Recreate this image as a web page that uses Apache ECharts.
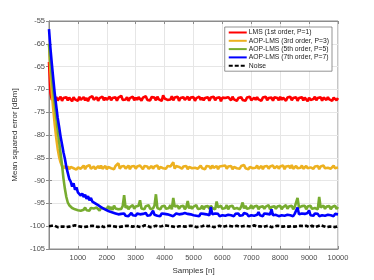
<!DOCTYPE html>
<html><head><meta charset="utf-8">
<script src="https://cdn.jsdelivr.net/npm/echarts@6/dist/echarts.min.js"></script>
<style>html,body{margin:0;padding:0;background:#fff}#c{width:374px;height:280px}</style>
</head><body><div id="c"></div>
<script>
const samples = [0,50,100,150,200,250,300,350,400,450,500,550,600,650,700,750,800,850,900,950,
1000,1050,1100,1150,1200,1250,1300,1350,1400,1450,1500,1550,1600,1650,1700,1750,1800,1850,1900,1950,
2000,2050,2100,2150,2200,2250,2300,2350,2400,2450,2500,2550,2600,2650,2700,2750,2800,2850,2900,2950,
3000,3050,3100,3150,3200,3250,3300,3350,3400,3450,3500,3550,3600,3650,3700,3750,3800,3850,3900,3950,
4000,4050,4100,4150,4200,4250,4300,4350,4400,4450,4500,4550,4600,4650,4700,4750,4800,4850,4900,4950,
5000,5050,5100,5150,5200,5250,5300,5350,5400,5450,5500,5550,5600,5650,5700,5750,5800,5850,5900,5950,
6000,6050,6100,6150,6200,6250,6300,6350,6400,6450,6500,6550,6600,6650,6700,6750,6800,6850,6900,6950,
7000,7050,7100,7150,7200,7250,7300,7350,7400,7450,7500,7550,7600,7650,7700,7750,7800,7850,7900,7950,
8000,8050,8100,8150,8200,8250,8300,8350,8400,8450,8500,8550,8600,8650,8700,8750,8800,8850,8900,8950,
9000,9050,9100,9150,9200,9250,9300,9350,9400,9450,9500,9550,9600,9650,9700,9750,9800,9850,9900,9950,10000];

const lms1 = [-64.0,-70.8,-72.3,
-71.8,-72.3,-71.7,-72.4,-72.0,-71.6,-72.5,-71.9,-72.2,-71.7,
-72.4,-71.8,-72.1,-72.6,-71.7,-72.2,-71.9,-72.5,-71.6,-72.3,
-72.0,-71.7,-72.4,-71.9,-72.6,-71.8,-72.1,-71.5,-72.3,-72.0,
-71.7,-72.5,-71.9,-72.2,-71.6,-72.4,-71.8,-72.3,-72.0,-71.6,
-72.4,-71.9,-72.2,-71.7,-72.5,-71.8,-72.0,-71.4,-72.3,-71.9,
-72.2,-71.7,-72.5,-71.9,-72.1,-71.6,-72.4,-71.8,-72.3,-71.7,
-72.0,-72.5,-71.8,-72.2,-71.5,-72.3,-71.9,-72.4,-71.7,-72.1,
-71.8,-72.4,-71.6,-72.2,-71.9,-72.5,-71.3,-72.0,-71.7,-72.3,
-71.9,-72.2,-71.5,-72.4,-71.8,-72.1,-71.6,-72.5,-71.9,-72.2,
-71.7,-72.3,-72.0,-71.6,-72.4,-71.8,-72.2,-71.7,-72.5,-71.9,
-72.1,-71.6,-72.3,-71.8,-72.4,-71.9,-72.0,-71.7,-72.5,-71.8,
-72.2,-71.6,-72.4,-71.9,-72.1,-71.7,-72.6,-71.8,-72.2,-71.9,
-72.3,-71.7,-72.0,-72.4,-71.6,-72.2,-71.8,-72.5,-71.9,-72.1,
-71.7,-72.3,-71.9,-72.5,-71.8,-72.1,-71.6,-72.4,-72.0,-71.8,
-72.3,-71.7,-72.2,-71.9,-72.5,-71.8,-72.0,-71.6,-72.4,-71.9,
-72.2,-71.8,-72.5,-71.7,-72.1,-71.9,-72.4,-71.6,-72.3,-71.8,
-72.0,-72.5,-71.8,-72.2,-71.6,-72.4,-71.9,-72.1,-71.7,-72.5,
-71.9,-72.2,-71.7,-72.4,-71.8,-72.1,-72.6,-71.8,-72.3,-71.9,
-72.1,-71.6,-72.4,-71.9,-72.2,-71.7,-72.5,-71.8,-72.0,-72.3,
-71.7,-72.2,-71.9,-72.5,-71.8,-72.1,-72.4,-71.9];

const aop3 = [-60.0,-66.0,-71.0,-74.5,-77.8,-80.6,-83.0,-84.8,-86.0,-86.8,-87.3,
-86.8,-87.4,-86.9,-87.5,-87.0,-86.7,-87.3,-86.9,-87.6,-87.1,
-86.8,-87.4,-87.0,-86.7,-87.5,-86.9,-87.2,-86.6,-87.4,-87.0,
-86.9,-87.5,-87.1,-86.8,-87.3,-86.7,-87.4,-87.0,-86.8,-87.5,
-87.0,-86.7,-87.3,-86.9,-87.5,-86.8,-87.2,-86.2,-87.4,-86.9,
-87.1,-86.8,-87.4,-87.0,-86.7,-87.5,-86.9,-87.2,-86.8,-87.4,
-86.9,-87.3,-86.7,-87.1,-87.5,-86.8,-87.2,-86.9,-87.4,-87.0,
-86.8,-87.4,-86.9,-87.2,-86.7,-87.5,-87.0,-86.8,-87.3,-86.9,
-87.4,-86.8,-87.1,-86.9,-87.3,-86.0,-87.4,-86.8,-87.2,-87.0,
-86.7,-87.4,-86.9,-87.3,-86.8,-87.5,-87.0,-86.7,-87.3,-86.9,
-87.2,-86.8,-87.4,-87.0,-86.7,-87.3,-86.9,-87.5,-86.8,-87.1,
-86.9,-87.4,-86.7,-87.2,-87.0,-86.8,-87.5,-86.9,-87.3,-86.8,
-87.1,-86.7,-87.4,-86.9,-87.2,-86.8,-87.5,-87.0,-86.7,-87.3,
-86.9,-87.4,-86.8,-87.1,-86.6,-87.3,-86.9,-87.5,-87.0,-86.8,
-87.3,-86.9,-87.2,-86.7,-87.4,-87.0,-86.8,-87.5,-86.9,-87.2,
-86.8,-87.4,-86.9,-87.1,-86.7,-87.3,-87.0,-86.8,-87.4,-86.9,
-87.2,-86.7,-87.5,-86.9,-87.1,-86.8,-87.3,-86.6,-87.4,-87.0,
-86.8,-87.3,-86.9,-87.2,-86.7,-87.4,-87.0,-86.8,-87.3,-86.9,
-87.1,-86.7,-87.4,-86.9,-87.2,-86.8,-87.5,-86.9,-87.1,-86.7,
-87.3,-86.9,-87.2,-86.8,-87.4,-87.0,-86.7,-87.3,-86.9,-87.1];

const aop5 = [-60.0,-64.0,-67.5,-70.5,-73.2,-76.0,-79.0,-81.5,-84.0,-86.5,-89.5,-91.8,-93.6,-94.8,-95.4,-95.8,-96.0,-96.2,-96.3,
-96.0,-96.5,-96.1,-96.6,-96.2,-96.4,-95.9,-96.5,-96.2,-96.6,-96.0,-96.4,-96.1,-96.5,-95.9,-96.3,-96.6,-96.0,-96.4,-96.1,-95.8,-96.3,
-95.6,-96.3,-95.8,-96.4,-95.5,-96.1,-95.7,-96.3,-95.9,-96.2,
-95.6,-93.2,-96.0,-95.5,-96.3,-95.8,-96.1,-95.4,-96.2,-95.7,
-96.0,-95.5,-94.3,-96.1,-95.7,-96.3,-95.6,-96.0,-95.4,-96.2,
-95.8,-96.1,-95.5,-93.0,-96.0,-95.6,-96.3,-95.7,-96.1,-95.5,
-96.2,-95.8,-96.0,-95.4,-96.3,-93.8,-95.7,-96.1,-95.5,-96.2,
-95.7,-96.0,-95.5,-96.3,-95.8,-94.5,-96.1,-95.6,-96.2,-95.7,
-96.0,-95.4,-96.2,-95.8,-96.1,-95.5,-96.3,-95.7,-96.0,-95.6,
-96.2,-95.5,-96.0,-95.7,-96.3,-94.6,-95.9,-96.1,-95.5,-96.2,
-95.8,-96.0,-95.4,-96.3,-95.7,-96.1,-95.5,-96.2,-95.8,-96.0,
-95.6,-96.3,-95.7,-94.8,-96.1,-95.5,-96.2,-95.8,-96.0,-95.4,
-96.2,-95.7,-96.1,-95.5,-96.3,-95.8,-96.0,-95.6,-96.2,-95.7,
-96.0,-95.4,-96.3,-95.8,-96.1,-95.6,-96.2,-95.7,-96.0,-95.5,
-96.3,-95.8,-96.1,-95.4,-96.2,-95.7,-96.0,-95.5,-96.3,-95.8,
-96.1,-93.8,-95.9,-96.2,-95.6,-96.0,-95.5,-96.3,-95.7,-96.1,
-95.5,-96.2,-95.8,-96.0,-95.6,-96.3,-93.6,-95.9,-96.1,-95.5,
-96.2,-95.7,-96.0,-95.6,-96.3,-95.8,-96.1,-95.5,-96.2,-95.8];

const aop7 = [-56.8,-61.0,-64.5,-67.8,-71.0,-73.6,-76.2,-78.2,-80.3,-82.0,-83.8,-85.2,-87.0,-88.3,-89.6,-90.2,-91.3,-90.6,-92.0,-91.5,-92.6,
-92.2,-93.3,-92.8,-93.6,-93.1,-94.0,-93.4,-94.3,-93.8,-94.6,
-94.2,-95.0,-94.6,-95.4,-95.0,-95.8,-95.4,-96.2,-95.9,-96.5,
-96.1,-96.8,-96.4,-97.0,-96.7,-97.2,-96.9,-97.4,-97.0,-97.3,
-97.6,-97.2,-97.7,-97.3,-97.8,-97.4,-97.1,-97.6,-97.3,-97.7,
-97.2,-97.6,-97.4,-97.8,-97.3,-97.5,-97.1,-97.7,-97.4,-97.6,
-97.2,-96.6,-97.5,-97.3,-97.7,-97.4,-97.8,-97.2,-97.6,-97.3,
-97.7,-97.4,-97.1,-97.6,-97.3,-97.8,-97.5,-97.2,-97.6,-97.4,
-97.8,-97.3,-97.6,-97.1,-97.5,-97.3,-97.7,-97.4,-97.2,-97.6,
-97.3,-97.7,-97.4,-97.8,-97.2,-97.5,-97.3,-97.7,-97.4,-97.1,
-97.6,-95.8,-97.4,-97.7,-97.2,-97.5,-97.3,-97.8,-97.4,-97.6,
-97.2,-97.7,-97.3,-97.5,-97.1,-97.6,-97.4,-97.8,-97.3,-97.5,
-97.2,-97.7,-97.4,-97.6,-97.1,-97.5,-97.3,-97.8,-97.4,-97.6,
-97.2,-97.7,-97.3,-97.5,-96.9,-97.6,-97.4,-97.8,-97.2,-97.5,
-97.3,-97.7,-97.4,-96.3,-97.6,-97.2,-97.5,-97.3,-97.8,-97.4,
-97.6,-97.2,-97.7,-97.3,-97.5,-97.1,-97.6,-97.4,-97.8,-97.3,
-97.5,-95.9,-97.4,-97.7,-97.2,-97.6,-97.3,-97.5,-97.1,-96.5,
-97.6,-97.4,-97.7,-97.2,-97.5,-97.3,-97.8,-97.4,-97.6,-97.2,
-97.7,-97.3,-97.5,-97.1,-97.6,-97.4,-97.8,-97.3,-97.5,-97.4];

const noise = [-100.0,
-100.1,-99.9,-100.2,-99.9,-100.0,-100.2,-99.9,-100.1,-99.8,-100.1,
-100.0,-100.2,-99.9,-100.1,-99.9,-100.0,-100.2,-99.8,-100.1,-100.0,
-99.9,-100.1,-100.0,-100.2,-99.9,-100.1,-99.8,-100.0,-100.2,-99.9,
-100.1,-100.0,-99.9,-100.2,-100.0,-99.9,-100.1,-100.2,-99.9,-100.0,
-100.2,-99.9,-100.1,-100.0,-99.8,-100.1,-100.0,-100.2,-99.9,-100.1,
-99.9,-100.0,-100.2,-99.9,-100.1,-100.0,-99.9,-100.1,-100.2,-99.9,
-100.0,-100.1,-99.9,-100.2,-100.0,-99.8,-100.1,-99.9,-100.0,-100.2,
-99.9,-100.1,-100.0,-99.9,-100.2,-100.1,-99.9,-100.0,-100.1,-99.8,
-100.1,-99.9,-100.2,-100.0,-99.9,-100.1,-100.0,-100.2,-99.9,-100.0,
-100.2,-100.0,-99.9,-100.1,-99.8,-100.0,-100.2,-99.9,-100.1,-100.0,
-99.9,-100.2,-100.0,-100.1,-99.9,-100.0,-100.1,-99.8,-100.2,-100.0,
-100.1,-99.9,-100.0,-100.2,-99.9,-100.1,-100.0,-99.9,-100.1,-100.2,
-99.9,-100.0,-100.1,-99.9,-100.2,-100.0,-99.8,-100.1,-100.0,-99.9,
-100.2,-100.1,-99.9,-100.0,-100.1,-99.9,-100.2,-100.0,-99.9,-100.1,
-100.0,-99.8,-100.2,-100.1,-99.9,-100.0,-100.1,-100.2,-99.9,-100.0,
-100.1,-99.9,-100.0,-100.2,-99.9,-100.1,-100.0,-99.9,-100.2,-100.0,
-99.9,-100.1,-100.2,-100.0,-99.8,-100.1,-99.9,-100.0,-100.2,-100.1,
-99.9,-100.0,-100.1,-99.9,-100.2,-100.0,-100.1,-99.9,-100.0,-100.2,
-100.0,-99.9,-100.1,-100.2,-99.9,-100.0,-100.1,-99.8,-100.1,-100.0,
-99.9,-100.2,-100.0,-100.1,-99.9,-100.1,-100.0,-100.2,-99.9,-100.0];

const seriesNames = ['LMS (1st order, P=1)','AOP-LMS (3rd order, P=3)','AOP-LMS (5th order, P=5)','AOP-LMS (7th order, P=7)','Noise'];
const seriesColors = ['#ff0000','#edb120','#77ac30','#0000ff','#000000'];
const seriesValues = [lms1, aop3, aop5, aop7, noise];
const xTicks = {min:0, max:10000, interval:1000};
const yTicks = {min:-105, max:-55, interval:5};

const chart = echarts.init(document.getElementById('c'), null, {renderer:'canvas'});
const axisColor = '#8c8c8c';
const labelColor = '#4d4d4d';
const ff = 'Liberation Sans, Arial, sans-serif';
const series = seriesValues.map((vals, i) => ({
  name: seriesNames[i],
  type: 'line',
  data: samples.map((s, k) => [s, vals[k]]),
  showSymbol: false,
  symbol: 'none',
  lineStyle: i === 4 ? {color: seriesColors[i], width: 2.6, type: [4, 2]} : {color: seriesColors[i], width: 2.6},
  itemStyle: {color: seriesColors[i]},
  animation: false,
  z: 2 + i
}));
chart.setOption({
  animation: false,
  backgroundColor: '#fff',
  textStyle: {fontFamily: ff},
  grid: {left: 49, right: 36, top: 21, bottom: 31, show: true, borderColor: axisColor, borderWidth: 1, backgroundColor: '#fff'},
  legend: {
    orient: 'vertical', right: 42, top: 27,
    itemWidth: 18, itemHeight: 7, itemGap: 1.3,
    padding: [2, 3, 2, 3],
    backgroundColor: '#fff', borderColor: '#666', borderWidth: 0.7,
    itemStyle: {opacity: 0},
    lineStyle: {width: 2},
    textStyle: {fontSize: 6.8, lineHeight: 7, color: '#222', fontFamily: ff, padding: [0, 0, 0, -3]},
    data: seriesNames
  },
  xAxis: [{
    type: 'value', min: xTicks.min, max: xTicks.max, interval: xTicks.interval,
    name: 'Samples [n]', nameLocation: 'middle', nameGap: 16,
    nameTextStyle: {fontSize: 8, color: '#333', fontFamily: ff},
    axisLine: {show: true, lineStyle: {color: axisColor}},
    axisTick: {show: true, inside: true, length: 3, lineStyle: {color: axisColor}},
    axisLabel: {fontSize: 7.5, color: labelColor, showMinLabel: false, margin: 5, fontFamily: ff, formatter: v => String(v)},
    splitLine: {show: true, lineStyle: {color: '#e6e6e6', width: 1}}
  }, {
    type: 'value', position: 'top', min: xTicks.min, max: xTicks.max, interval: xTicks.interval,
    axisLine: {show: true, lineStyle: {color: axisColor}},
    axisTick: {show: true, inside: true, length: 3, lineStyle: {color: axisColor}},
    axisLabel: {show: false}, splitLine: {show: false}
  }],
  yAxis: [{
    type: 'value', min: yTicks.min, max: yTicks.max, interval: yTicks.interval,
    name: 'Mean squared error [dBm]', nameLocation: 'middle', nameGap: 25,
    nameTextStyle: {fontSize: 8, color: '#333', fontFamily: ff},
    axisLine: {show: true, lineStyle: {color: axisColor}},
    axisTick: {show: true, inside: true, length: 3, lineStyle: {color: axisColor}},
    axisLabel: {fontSize: 7.5, color: labelColor, margin: 4, fontFamily: ff},
    splitLine: {show: true, lineStyle: {color: '#e6e6e6', width: 1}}
  }, {
    type: 'value', position: 'right', min: yTicks.min, max: yTicks.max, interval: yTicks.interval,
    axisLine: {show: true, lineStyle: {color: axisColor}},
    axisTick: {show: true, inside: true, length: 3, lineStyle: {color: axisColor}},
    axisLabel: {show: false}, splitLine: {show: false}
  }],
  series: series
});
</script>
</body></html>
